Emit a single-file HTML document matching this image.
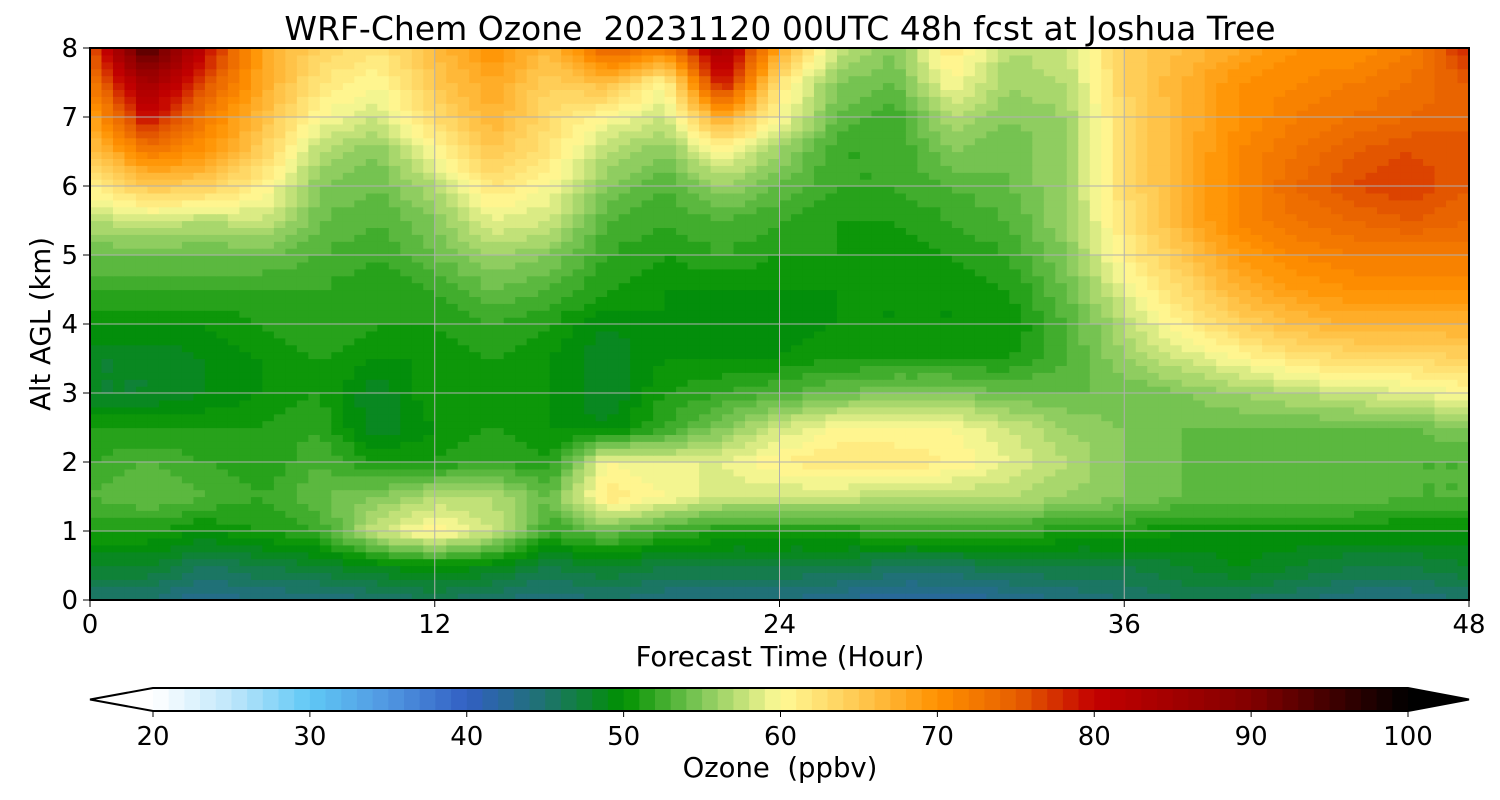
<!DOCTYPE html>
<html><head><meta charset="utf-8"><style>
body{margin:0;background:#fff;}
svg{display:block;font-family:"DejaVu Sans","Liberation Sans",sans-serif;}
text{white-space:pre;}
</style></head><body>
<svg id="chart" width="1500" height="800">
<text x="780" y="40" font-size="33" text-anchor="middle" xml:space="preserve">WRF-Chem Ozone  20231120 00UTC 48h fcst at Joshua Tree</text>
<g id="cells"></g>
<g id="grid"></g>
<rect x="90" y="48" width="1379" height="552" fill="none" stroke="#000" stroke-width="2"/>
<g id="xt"></g>
<g id="yt"></g>
<text x="780" y="666" font-size="27.5" text-anchor="middle">Forecast Time (Hour)</text>
<text transform="translate(50,324) rotate(-90)" font-size="27.5" text-anchor="middle">Alt AGL (km)</text>
<g id="cbar"></g>
<text x="780" y="777" font-size="27.5" text-anchor="middle" xml:space="preserve">Ozone  (ppbv)</text>
</svg>
<script>
const hours=[0,2,4,6,8,10,12,14,16,18,20,22,24,26,28,30,32,34,36,38,40,42,44,46,48];
const alts=[0,0.5,1,1.5,2,2.5,3,3.5,4,4.5,5,5.5,6,6.5,7,7.5,8];
const ozone=[
[45,45,43,44,44,45,46,45,44,45,44,44,44,43,42,42,43,44,45,46,46,45,44,44,45],
[48,48,46,47,48,49,50,49,47,48,47,47,47,47,46,46,47,47,47,48,49,48,47,47,48],
[51,51,50,51,52,58,61,58,52,54,52,51,51,51,52,52,52,51,51,50,50,50,50,50,50],
[53,54,53,52,54,55,57,57,54,62,60,58,58,58,57,57,57,56,55,54,54,54,54,53,53],
[52,53,52,51,53,51,51,52,51,60,59,59,61,62,62,61,59,57,55,54,53,53,53,53,53],
[51,51,51,51,52,48,50,51,50,49,52,55,58,60,60,60,58,56,55,54,54,54,54,54,55],
[48,48,49,50,51,48,51,51,50,48,51,52,53,54,55,55,54,54,54,55,56,57,58,59,60],
[48,48,49,50,51,50,50,51,50,48,50,50,50,51,51,51,51,53,56,58,60,62,63,63,64],
[50,50,50,51,52,51,51,52,51,49,50,49,49,50,50,50,50,53,57,61,64,66,67,67,67],
[52,52,52,52,52,51,52,54,53,51,50,50,50,50,50,50,51,54,59,63,67,69,70,70,70],
[54,54,54,54,53,52,54,56,55,52,51,52,51,51,50,51,52,55,61,65,69,71,72,72,72],
[57,58,57,58,54,53,55,59,58,53,52,53,52,51,51,52,53,56,62,67,71,73,74,75,74],
[61,65,64,61,55,54,57,62,60,55,53,56,54,52,52,53,54,56,63,67,71,74,76,77,75],
[65,72,70,64,57,55,60,65,62,57,55,60,56,52,52,55,54,56,63,67,71,73,75,76,75],
[68,80,72,66,60,58,63,67,63,60,58,68,60,54,52,57,55,56,63,67,70,72,73,74,75],
[72,85,76,68,62,60,65,68,64,66,60,80,62,55,54,60,56,57,64,67,70,71,72,73,75],
[75,95,80,68,64,62,66,70,66,75,72,85,68,58,55,62,57,58,64,66,68,70,70,72,78]];
const xTicks=[0,12,24,36,48];
const yTicks=[0,1,2,3,4,5,6,7,8];
const cbTicks=[20,30,40,50,60,70,80,90,100];
const NS="http://www.w3.org/2000/svg";
const X0=90,X1=1469,Y0=600,Y1=48;
const xs=h=>X0+(h-0)/48*(X1-X0);
const ys=a=>Y0-(a-0)/8*(Y0-Y1);
const stops=[[20,[255,255,255]],[25,[190,230,250]],[30,[95,200,245]],[35,[80,150,225]],[40,[50,95,195]],[45,[30,115,110]],[50,[0,145,0]],[55,[130,200,90]],[60,[255,250,150]],[65,[255,200,80]],[70,[255,145,0]],[75,[230,95,0]],[80,[195,0,0]],[90,[130,0,0]],[100,[0,0,0]]];
function col(v){v=Math.max(20,Math.min(100,Math.floor(v)+0.5));
 for(let i=0;i<stops.length-1;i++){const[a,ca]=stops[i],[b,cb]=stops[i+1];
  if(v<=b){const t=(v-a)/(b-a);return`rgb(${ca.map((c,k)=>Math.round(c+(cb[k]-c)*t)).join(",")})`;}}
 return"rgb(0,0,0)";}
function mk(tag,at,p){const e=document.createElementNS(NS,tag);for(const k in at)e.setAttribute(k,at[k]);p.appendChild(e);return e;}
const cells=document.getElementById("cells");
const S=5;
for(let j=0;j<alts.length-1;j++)for(let i=0;i<hours.length-1;i++)for(let b=0;b<S;b++)for(let a=0;a<S;a++){
 const u=(a+0.5)/S,w=(b+0.5)/S;
 const v=ozone[j][i]*(1-u)*(1-w)+ozone[j][i+1]*u*(1-w)+ozone[j+1][i]*(1-u)*w+ozone[j+1][i+1]*u*w;
 const h0=hours[i]+(hours[i+1]-hours[i])*a/S,h1=hours[i]+(hours[i+1]-hours[i])*(a+1)/S;
 const a0=alts[j]+(alts[j+1]-alts[j])*b/S,a1=alts[j]+(alts[j+1]-alts[j])*(b+1)/S;
 const r=mk("rect",{x:xs(h0),y:ys(a1),width:xs(h1)-xs(h0)+0.6,height:ys(a0)-ys(a1)+0.6,fill:col(v)},cells);
 
 
}
const grid=document.getElementById("grid"),xt=document.getElementById("xt"),yt=document.getElementById("yt");
xTicks.forEach(t=>{const x=xs(t);
 if(t>0&&t<48){const l=mk("line",{x1:x,x2:x,y1:Y1,y2:Y0,stroke:"#b0b0b0","stroke-width":1},grid);}
 mk("line",{x1:x,x2:x,y1:Y0,y2:Y0+7,stroke:"#000"},xt);
 const tx=mk("text",{x:x,y:Y0+33,"font-size":26,"text-anchor":"middle"},xt);tx.textContent=t;
 });
yTicks.forEach(t=>{const y=ys(t);
 if(t>0&&t<8){const l=mk("line",{x1:X0,x2:X1,y1:y,y2:y,stroke:"#b0b0b0","stroke-width":1},grid);}
 mk("line",{x1:X0-7,x2:X0,y1:y,y2:y,stroke:"#000"},yt);
 const tx=mk("text",{x:X0-12,y:y+9,"font-size":26,"text-anchor":"end"},yt);tx.textContent=t;
 });
const cb=document.getElementById("cbar");
const C0=153,C1=1408,CY0=688,CY1=711;
const cx=v=>C0+(v-20)/80*(C1-C0);
for(let v=20;v<100;v++){const r=mk("rect",{x:cx(v),y:CY0,width:cx(v+1)-cx(v)+0.6,height:CY1-CY0,fill:col(v)},cb);
 }
const tl=mk("polygon",{points:`${C0},${CY0} 90,${(CY0+CY1)/2} ${C0},${CY1}`,fill:"#fff"},cb);

const tr=mk("polygon",{points:`${C1},${CY0} 1469,${(CY0+CY1)/2} ${C1},${CY1}`,fill:"#000"},cb);

mk("polygon",{points:`${C0},${CY0} 90,${(CY0+CY1)/2} ${C0},${CY1} ${C1},${CY1} 1469,${(CY0+CY1)/2} ${C1},${CY0}`,fill:"none",stroke:"#000","stroke-width":2},cb);
cbTicks.forEach(t=>{const x=cx(t);mk("line",{x1:x,x2:x,y1:CY1,y2:CY1+6,stroke:"#000"},cb);
 const tx=mk("text",{x:x,y:CY1+34,"font-size":26,"text-anchor":"middle"},cb);tx.textContent=t;
 });
</script>
</body></html>
